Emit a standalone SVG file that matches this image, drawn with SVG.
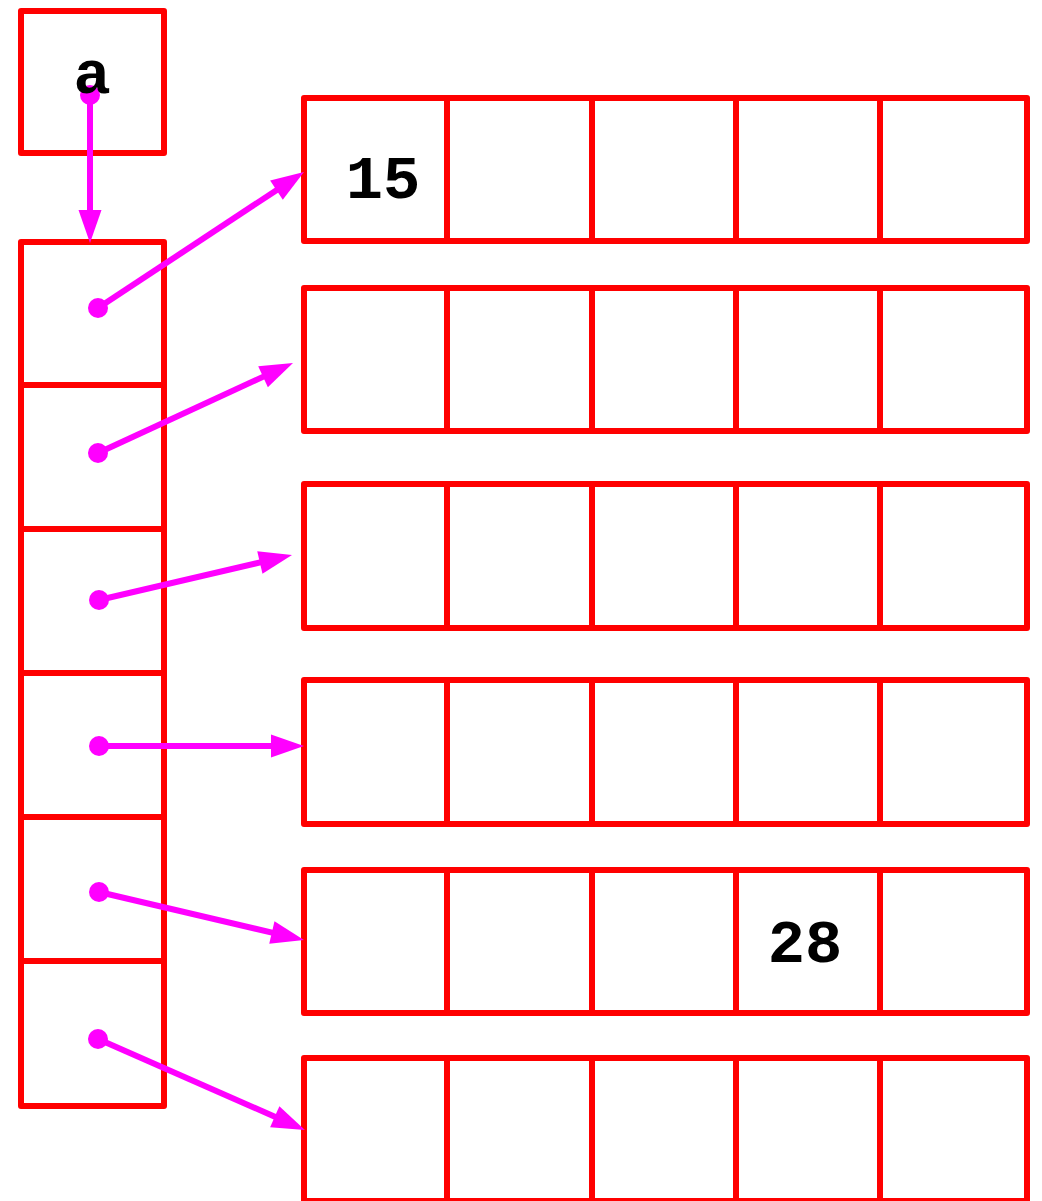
<svg xmlns="http://www.w3.org/2000/svg" width="1042" height="1201" viewBox="0 0 1042 1201">
<defs>
<style>
.box{fill:none;stroke:#ff0000;stroke-width:6;stroke-linejoin:round;stroke-linecap:round}
.div{stroke:#ff0000;stroke-width:6}
.conn{stroke:#ff00ff;stroke-width:6;fill:none;marker-end:url(#ah)}
.dot{fill:#ff00ff}
.t{font-family:"Liberation Mono","Courier New",monospace;font-weight:bold;font-size:62px;fill:#000;text-anchor:middle}
</style>
<marker id="ah" markerUnits="userSpaceOnUse" markerWidth="40" markerHeight="30" refX="10" refY="0" orient="auto" overflow="visible">
<path d="M0,-11.5 L33,0 L0,11.5 z" fill="#ff00ff"/>
</marker>
</defs>
<rect width="1042" height="1201" fill="#ffffff"/>
<g id="var-a"><rect class="box" x="21" y="11" width="143" height="142"/></g>
<g id="col">
<rect class="box" x="21" y="242" width="143" height="864"/>
<line class="div" x1="21" y1="385" x2="164" y2="385"/>
<line class="div" x1="21" y1="529" x2="164" y2="529"/>
<line class="div" x1="21" y1="673" x2="164" y2="673"/>
<line class="div" x1="21" y1="817" x2="164" y2="817"/>
<line class="div" x1="21" y1="961" x2="164" y2="961"/>
</g>
<g id="row1">
<rect class="box" x="304" y="98" width="723" height="143"/>
<path class="div" d="M447,98V241M592,98V241M736,98V241M880,98V241"/>
</g>
<g id="row2">
<rect class="box" x="304" y="288" width="723" height="143"/>
<path class="div" d="M447,288V431M592,288V431M736,288V431M880,288V431"/>
</g>
<g id="row3">
<rect class="box" x="304" y="484" width="723" height="144"/>
<path class="div" d="M447,484V628M592,484V628M736,484V628M880,484V628"/>
</g>
<g id="row4">
<rect class="box" x="304" y="680" width="723" height="144"/>
<path class="div" d="M447,680V824M592,680V824M736,680V824M880,680V824"/>
</g>
<g id="row5">
<rect class="box" x="304" y="870" width="723" height="143"/>
<path class="div" d="M447,870V1013M592,870V1013M736,870V1013M880,870V1013"/>
</g>
<g id="row6">
<rect class="box" x="304" y="1058" width="723" height="143"/>
<path class="div" d="M447,1058V1201M592,1058V1201M736,1058V1201M880,1058V1201"/>
</g>
<g id="connectors">
<circle class="dot" cx="90" cy="95" r="10"/>
<line class="conn" x1="90" y1="95" x2="90" y2="220"/>
<circle class="dot" cx="98" cy="308" r="10"/>
<line class="conn" x1="98" y1="308" x2="284.8" y2="184.7"/>
<circle class="dot" cx="98" cy="453" r="10"/>
<line class="conn" x1="98" y1="453" x2="272.1" y2="372.6"/>
<circle class="dot" cx="99" cy="600" r="10"/>
<line class="conn" x1="99" y1="600" x2="269.6" y2="560.2"/>
<circle class="dot" cx="99" cy="746" r="10"/>
<line class="conn" x1="99" y1="746" x2="281" y2="746"/>
<circle class="dot" cx="99" cy="892" r="10"/>
<line class="conn" x1="99" y1="892" x2="281.6" y2="934.8"/>
<circle class="dot" cx="98" cy="1039" r="10"/>
<line class="conn" x1="98" y1="1039" x2="283.9" y2="1120.7"/>
</g>
<g id="labels">
<text class="t" x="92" y="93">a</text>
<text class="t" x="383" y="198">15</text>
<text class="t" x="805" y="962">28</text>
</g>
</svg>
